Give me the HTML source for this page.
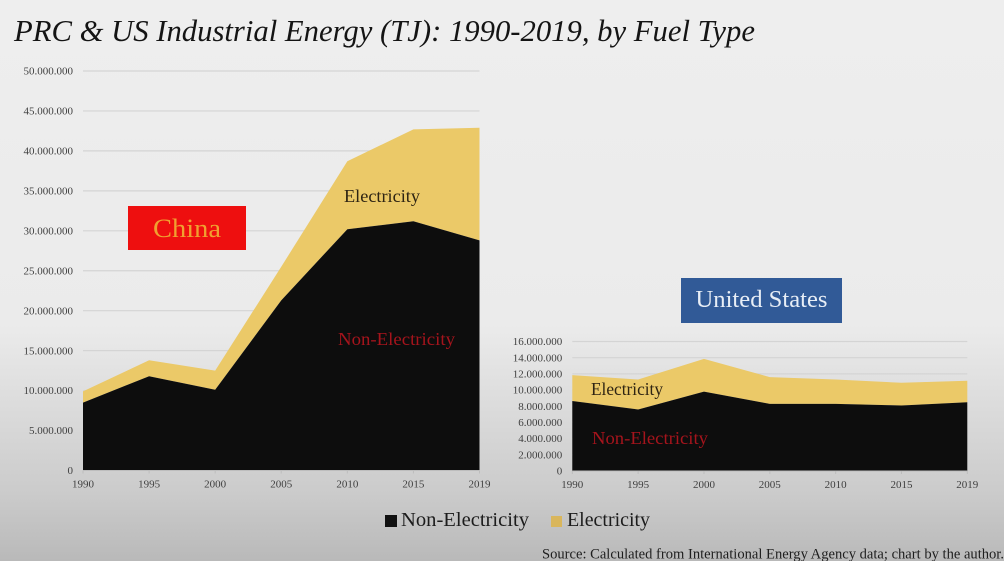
<!DOCTYPE html>
<html>
<head>
<meta charset="utf-8">
<style>
html,body{margin:0;padding:0;background:#ededed;}
#stage{display:block;width:1004px;height:561px;font-family:"Liberation Serif",serif;}
</style>
</head>
<body>
<svg id="stage" xmlns="http://www.w3.org/2000/svg" width="1004" height="561" viewBox="0 0 1004 561">
<defs>
<linearGradient id="bg" x1="0" y1="0" x2="0" y2="1">
<stop offset="0" stop-color="#eeeeee"/>
<stop offset="0.58" stop-color="#ebebeb"/>
<stop offset="0.72" stop-color="#dcdcdc"/>
<stop offset="0.88" stop-color="#cbcbcb"/>
<stop offset="1" stop-color="#b9b9b9"/>
</linearGradient>
<filter id="soft" x="-2%" y="-2%" width="104%" height="104%"><feGaussianBlur stdDeviation="0.35"/></filter>
</defs>
<rect width="1004" height="561" fill="url(#bg)"/>
<text x="14" y="41" font-size="31" font-style="italic" fill="#141414" textLength="741" lengthAdjust="spacingAndGlyphs">PRC &amp; US Industrial Energy (TJ): 1990-2019, by Fuel Type</text>
<g id="china-chart" filter="url(#soft)"></g>
<g id="us-chart" filter="url(#soft)"></g>

<rect x="128" y="206" width="118" height="44" fill="#ee0f0f"/>
<text x="187" y="237" font-size="26" fill="#f0a030" text-anchor="middle" textLength="68" lengthAdjust="spacingAndGlyphs">China</text>
<text x="344" y="202" font-size="18" fill="#2e2413" textLength="76" lengthAdjust="spacingAndGlyphs">Electricity</text>
<text x="338" y="345" font-size="18" fill="#a5141c" textLength="117" lengthAdjust="spacingAndGlyphs">Non-Electricity</text>

<rect x="681" y="278" width="161" height="45" fill="#315a97"/>
<text x="761.5" y="307" font-size="24" fill="#e8eef6" text-anchor="middle" textLength="132" lengthAdjust="spacingAndGlyphs">United States</text>
<text x="591" y="395" font-size="18" fill="#2e2413" textLength="72" lengthAdjust="spacingAndGlyphs">Electricity</text>
<text x="592" y="444" font-size="18" fill="#a5141c" textLength="116" lengthAdjust="spacingAndGlyphs">Non-Electricity</text>

<g>
<rect x="385" y="515" width="12" height="12" fill="#111111"/>
<text x="401" y="526" font-size="20" fill="#1c1c1c" textLength="128" lengthAdjust="spacingAndGlyphs">Non-Electricity</text>
<rect x="551" y="516" width="11" height="11" fill="#d9b65c"/>
<text x="567" y="526" font-size="20" fill="#1c1c1c" textLength="83" lengthAdjust="spacingAndGlyphs">Electricity</text>
</g>
<text x="542" y="558.5" font-size="15" fill="#1e1e1e" textLength="462" lengthAdjust="spacingAndGlyphs">Source: Calculated from International Energy Agency data; chart by the author.</text>
</svg>
<script>
var years = ['1990', '1995', '2000', '2005', '2010', '2015', '2019'];
var chinaNonElectricity = [8500000, 11800000, 10100000, 21300000, 30200000, 31200000, 28800000];
var chinaElectricity = [1400000, 2000000, 2400000, 4200000, 8500000, 11500000, 14100000];
var chinaTicks = [0, 5000000, 10000000, 15000000, 20000000, 25000000, 30000000, 35000000, 40000000, 45000000, 50000000];
var usNonElectricity = [8650000, 7600000, 9800000, 8300000, 8300000, 8100000, 8500000];
var usElectricity = [3200000, 3700000, 4050000, 3300000, 3000000, 2800000, 2650000];
var usTicks = [0, 2000000, 4000000, 6000000, 8000000, 10000000, 12000000, 14000000, 16000000];

var SVG_NS = 'http://www.w3.org/2000/svg';

function make(parent, tag, attrs) {
  var el = document.createElementNS(SVG_NS, tag);
  Object.keys(attrs).forEach(function (k) { el.setAttribute(k, attrs[k]); });
  parent.appendChild(el);
  return el;
}

function formatTick(v) {
  return String(v).replace(/\B(?=(\d{3})+(?!\d))/g, '.');
}

function drawChart(groupId, box, cats, lower, upper, ticks) {
  var g = document.getElementById(groupId);
  var maxTick = ticks[ticks.length - 1];
  function xAt(i) { return box.left + (box.right - box.left) * i / (cats.length - 1); }
  function yAt(v) { return box.bottom - (box.bottom - box.top) * v / maxTick; }

  ticks.forEach(function (t) {
    if (t !== 0) {
      var grid = make(g, 'line', { x1: box.left, x2: box.right, y1: yAt(t), y2: yAt(t), stroke: '#d4d4d4', 'stroke-width': 1.2 });
      
      
    }
    var label = make(g, 'text', { x: box.left - 10, y: yAt(t) + 3.6, 'font-size': 11, fill: '#404040', 'text-anchor': 'end' });
    
    
    label.textContent = formatTick(t);
  });

  var lowerTop = lower.map(function (v, i) { return xAt(i) + ',' + yAt(v); });
  var upperTop = upper.map(function (v, i) { return xAt(i) + ',' + yAt(v + lower[i]); });

  var elecArea = make(g, 'polygon', { points: upperTop.concat(lowerTop.slice().reverse()).join(' '), fill: '#ebc967' });
  
  

  var baseline = [xAt(cats.length - 1) + ',' + yAt(0), xAt(0) + ',' + yAt(0)];
  var nonElecArea = make(g, 'polygon', { points: lowerTop.concat(baseline).join(' '), fill: '#111111' });
  
  

  var axis = make(g, 'line', { x1: box.left, x2: box.right, y1: yAt(0), y2: yAt(0), stroke: '#bdbdbd', 'stroke-width': 1 });
  
  

  cats.forEach(function (c, i) {
    var tick = make(g, 'line', { x1: xAt(i), x2: xAt(i), y1: yAt(0), y2: yAt(0) + 3, stroke: '#bdbdbd', 'stroke-width': 1 });
    
    
    var label = make(g, 'text', { x: xAt(i), y: box.bottom + 17, 'font-size': 11, fill: '#404040', 'text-anchor': 'middle' });
    
    
    label.textContent = c;
  });
}

drawChart('china-chart', { left: 83, right: 479.5, top: 71, bottom: 470.5 }, years, chinaNonElectricity, chinaElectricity, chinaTicks);
drawChart('us-chart', { left: 572.3, right: 967.3, top: 341.5, bottom: 471 }, years, usNonElectricity, usElectricity, usTicks);
</script>
</body>
</html>
